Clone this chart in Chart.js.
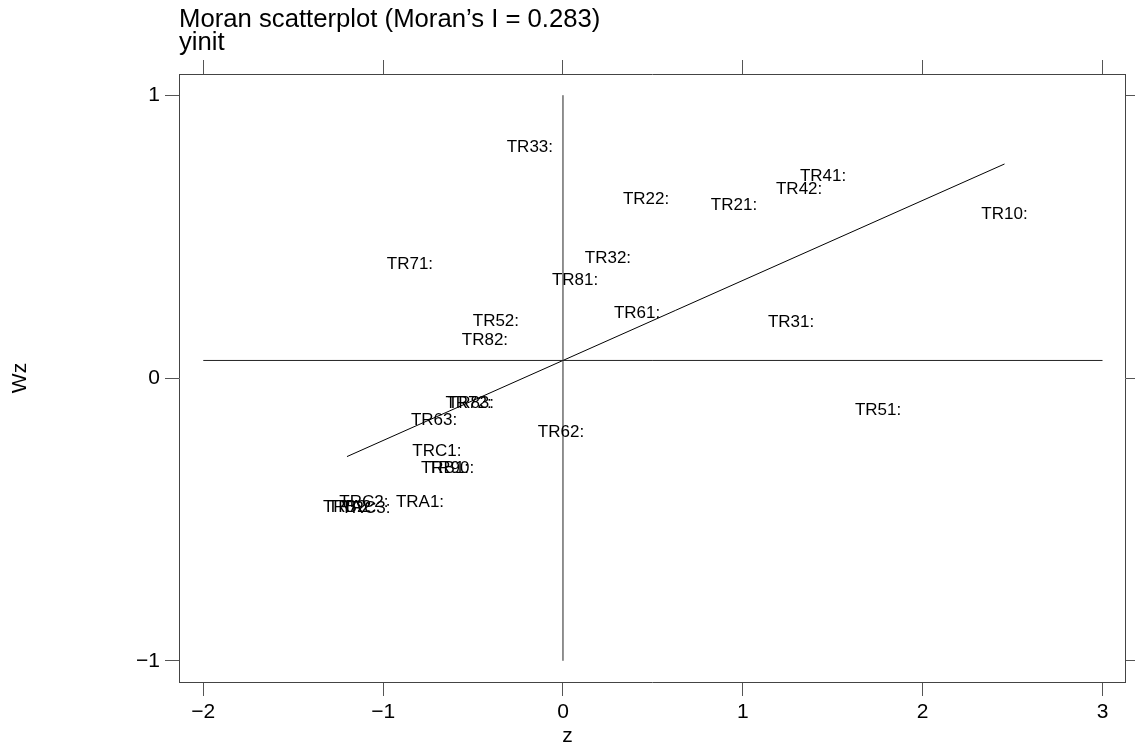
<!DOCTYPE html>
<html>
<head>
<meta charset="utf-8">
<script src="https://cdn.jsdelivr.net/npm/chart.js@4/dist/chart.umd.min.js"></script>
<style>
body { margin: 0; background: #fff; }
</style>
</head>
<body>
<canvas id="myChart" width="1135" height="751"></canvas>
<script>
// region codes and their standardized value (z) / spatial lag (Wz)
const regions = ["TR10","TR21","TR22","TR31","TR32","TR33","TR41","TR42","TR51","TR52",
                 "TR61","TR62","TR63","TR71","TR72","TR81","TR82","TR83","TR90","TRA1",
                 "TRA2","TRB1","TRB2","TRC1","TRC2","TRC3"];
const zValues  = [2.455, 0.951, 0.462, 1.268, 0.250, -0.184, 1.446, 1.313, 1.752, -0.373,
                  0.412, -0.011, -0.717, -0.851, -0.525, 0.067, -0.434, -0.512, -0.622, -0.795,
                  -1.174, -0.656, -1.201, -0.701, -1.107, -1.096];
const wzValues = [0.580, 0.611, 0.633, 0.198, 0.424, 0.817, 0.714, 0.668, -0.113, 0.201,
                  0.229, -0.191, -0.148, 0.403, -0.089, 0.346, 0.134, -0.089, -0.319, -0.439,
                  -0.457, -0.319, -0.456, -0.258, -0.439, -0.460];
const moranI = 0.283;
const meanWz = 0.062;
const hLineZ = [-2, 3];
const vLineWz = [-1, 1];
const xTicks = [-2, -1, 0, 1, 2, 3];
const yTicks = [-1, 0, 1];

Chart.defaults.font.family = '"Liberation Sans", Arial, Helvetica, sans-serif';
Chart.defaults.color = '#000';

const zMin = Math.min(...zValues);
const zMax = Math.max(...zValues);

const points = zValues.map((z, i) => ({x: z, y: wzValues[i]}));

const lineStyle = {showLine: true, pointRadius: 0, borderWidth: 1, fill: false};

const labelPlugin = {
  id: 'regionLabels',
  afterDatasetsDraw(chart) {
    const ctx = chart.ctx;
    const meta = chart.getDatasetMeta(0);
    ctx.save();
    ctx.font = '17px "Liberation Sans", Arial, sans-serif';
    ctx.fillStyle = '#000';
    ctx.textAlign = 'center';
    ctx.textBaseline = 'middle';
    meta.data.forEach((pt, i) => {
      ctx.fillText(regions[i] + ':', pt.x, pt.y);
    });
    ctx.restore();
  }
};

const minusSign = v => String(v).replace('-', '\u2212');
const axisGrid = {drawOnChartArea: false, color: '#555', tickLength: 14};
const axisBorder = {color: '#444', width: 1};

const config = {
  type: 'scatter',
  data: {
    datasets: [
      {data: points, pointRadius: 0},
      Object.assign({data: hLineZ.map(z => ({x: z, y: meanWz})), borderColor: '#222'}, lineStyle),
      Object.assign({data: vLineWz.map(w => ({x: 0, y: w})), borderColor: '#222'}, lineStyle),
      Object.assign({data: [zMin, zMax].map(z => ({x: z, y: meanWz + moranI * z})), borderColor: '#000'}, lineStyle)
    ]
  },
  options: {
    responsive: false,
    animation: false,
    events: [],
    layout: {padding: 0},
    plugins: {
      legend: {display: false},
      tooltip: {enabled: false},
      title: {
        display: true,
        text: ['Moran scatterplot (Moran\u2019s I = 0.283)', 'yinit'],
        align: 'start',
        fullSize: false,
        color: '#000',
        font: {size: 25.7, weight: 'normal', lineHeight: 23 / 25.7},
        padding: {top: 8, bottom: 6}
      },
      // x label, centred on the whole figure like the original
      subtitle: {
        display: true,
        text: 'z',
        position: 'bottom',
        fullSize: true,
        color: '#000',
        font: {size: 21, weight: 'normal', lineHeight: 25 / 21},
        padding: {top: 0, bottom: 2}
      }
    },
    scales: {
      x: {
        type: 'linear', position: 'bottom', min: -2.135, max: 3.125,
        afterBuildTicks: s => { s.ticks = xTicks.map(v => ({value: v})); },
        afterFit: s => { s.height = 42; },
        grid: axisGrid, border: axisBorder,
        ticks: {font: {size: 21}, padding: 4, maxRotation: 0, autoSkip: false, callback: minusSign}
      },
      x2: {
        type: 'linear', position: 'top', min: -2.135, max: 3.125,
        afterBuildTicks: s => { s.ticks = xTicks.map(v => ({value: v})); },
        afterFit: s => { s.height = 14; },
        grid: axisGrid, border: axisBorder,
        ticks: {display: false}
      },
      y: {
        type: 'linear', position: 'left', min: -1.075, max: 1.075,
        afterBuildTicks: s => { s.ticks = yTicks.map(v => ({value: v})); },
        afterFit: s => { s.width = 179; },
        grid: axisGrid, border: axisBorder,
        ticks: {font: {size: 21}, padding: 5, callback: minusSign},
        title: {display: true, text: 'Wz', font: {size: 21}, padding: {top: 8, bottom: 0}}
      },
      y2: {
        type: 'linear', position: 'right', min: -1.075, max: 1.075,
        afterBuildTicks: s => { s.ticks = yTicks.map(v => ({value: v})); },
        afterFit: s => { s.width = 10; },
        grid: Object.assign({}, axisGrid, {tickLength: 10}), border: axisBorder,
        ticks: {display: false}
      }
    }
  },
  plugins: [labelPlugin]
};

new Chart(document.getElementById('myChart'), config);
</script>
</body>
</html>
